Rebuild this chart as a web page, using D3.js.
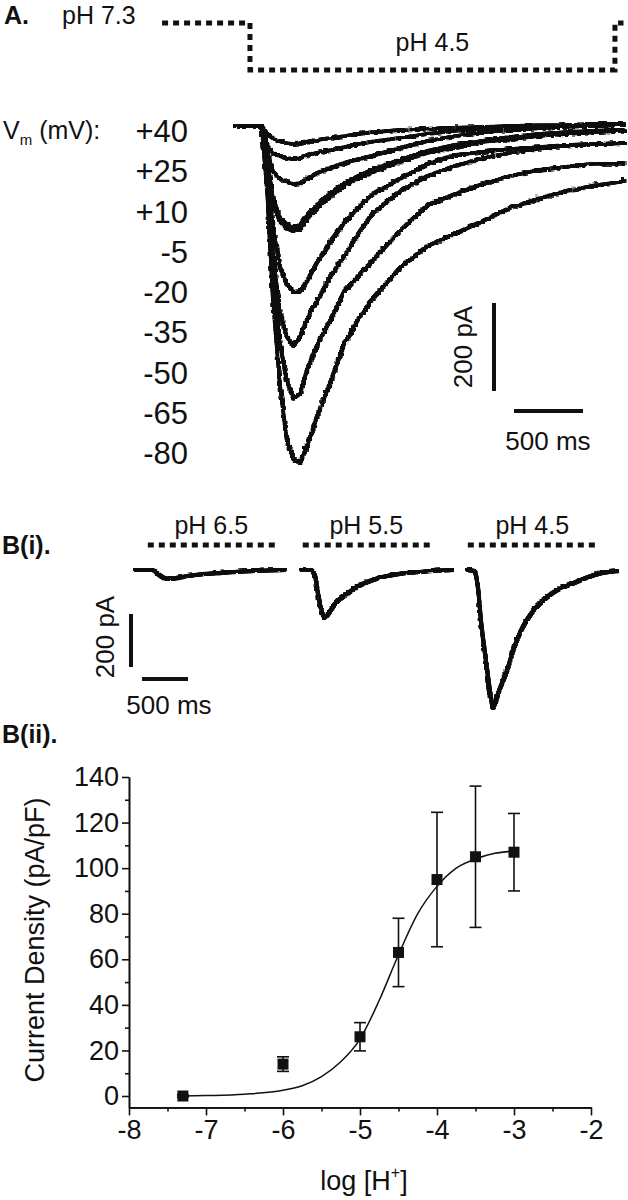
<!DOCTYPE html>
<html><head><meta charset="utf-8">
<script src="https://cdn.jsdelivr.net/npm/d3@7"></script>
<style>
body{margin:0;background:#fff;}
text{font-family:"Liberation Sans",Arial,sans-serif;fill:#111;}
</style>
</head><body>
<svg id="c" width="628" height="1200" xmlns="http://www.w3.org/2000/svg"></svg>
<script>
// ---------- Panel A data ----------
const voltages = ["+40","+25","+10","-5","-20","-35","-50","-65","-80"];
const traceTimes = [0,200,240,280,330,380,430,480,530,600,700,800,900,1000,1200,1400,1600,1800,2000,2200,2400,2600,2800,2830];
const iP40 = [0,0,-18,-27,-34,-39,-41,-39,-36,-32,-27,-23,-18,-14,-9,-6,-4,-2,0,2,2,5,5,5];
const iP25 = [0,0,-45,-61,-68,-73,-75,-73,-66,-61,-55,-48,-41,-36,-27,-18,-11,-7,-5,-2,0,0,2,2];
const iP10 = [0,0,-57,-102,-120,-127,-132,-130,-120,-107,-95,-84,-75,-68,-50,-34,-23,-14,-9,-5,-2,0,2,2];
const iM5  = [0,0,-75,-161,-207,-223,-230,-225,-202,-180,-152,-130,-114,-100,-77,-57,-43,-34,-25,-18,-14,-11,-9,-9];
const iM20 = [0,0,-80,-170,-216,-232,-239,-234,-211,-186,-159,-136,-118,-105,-82,-61,-48,-36,-30,-23,-18,-14,-11,-11];
const iM35 = [0,0,-91,-227,-318,-359,-377,-375,-352,-311,-261,-220,-184,-155,-120,-86,-66,-59,-52,-48,-43,-41,-39,-39];
const iM50 = [0,0,-114,-284,-420,-477,-500,-477,-439,-398,-341,-295,-245,-200,-148,-114,-91,-73,-61,-52,-45,-41,-39,-39];
const iM65 = [0,0,-125,-330,-489,-575,-620,-607,-552,-500,-439,-375,-341,-307,-239,-180,-155,-132,-114,-100,-93,-86,-86,-84];
const iM80 = [0,0,-148,-386,-580,-709,-757,-766,-727,-661,-580,-495,-439,-393,-323,-273,-245,-216,-186,-166,-148,-136,-127,-125];
const stimTimes = [-514,123,123,2768,2768,2830];
const stimPH = [7.3,7.3,4.5,4.5,7.3,7.3];

// ---------- Panel B(i) data ----------
const phLevels = ["pH 6.5","pH 5.5","pH 4.5"];
const bTimes65 = [0,196,250,315,391,467,576,750,935,1293,1652];
const bCurr65  = [0,0,-15,-30,-34,-30,-23,-15,-11,-4,0];
const bTimes55 = [0,100,150,200,260,300,370,500,630,850,1065,1283,1500,1652];
const bCurr55  = [0,0,-20,-120,-181,-165,-128,-91,-60,-30,-15,-8,-2,0];
const bTimes45 = [0,76,120,152,207,261,283,348,446,478,587,696,913,1163,1424,1652];
const bCurr45  = [0,-4,-68,-193,-343,-483,-521,-457,-370,-332,-230,-166,-91,-49,-15,-4];
const barOn  = [150,30,20];
const barOff = [1530,1410,1420];

// ---------- Panel B(ii) data ----------
const logH    = [-7.3,-6,-5,-4.5,-4,-3.5,-3];
const density = [0,14,26,63,95,105,107];
const sem     = [0.5,3.2,6.2,15,29.5,31,17];
const fitX = [-7.3,-7,-6.5,-6,-5.75,-5.5,-5.25,-5,-4.75,-4.5,-4.25,-4,-3.75,-3.5,-3.25,-3];
const fitY = [0,0.2,0.8,2.5,4.5,8.5,15,25,42,62,80,92,100,104,106.5,107.5];
const xTicks = [-8,-7,-6,-5,-4,-3,-2];
const xMinor = [-7.5,-6.5,-5.5,-4.5,-3.5,-2.5];
const yTicks = [0,20,40,60,80,100,120,140];
const yMinor = [10,30,50,70,90,110,130];

const ink = "#111";
const svg = d3.select("#c");

// recording-noise texture (visual style only)
const defs = svg.append("defs");
function roughFilter(id, freq, scale, dil){
  const f = defs.append("filter").attr("id",id).attr("x","-5%").attr("y","-5%")
    .attr("width","110%").attr("height","110%");
  f.append("feTurbulence").attr("type","turbulence").attr("baseFrequency",freq)
    .attr("numOctaves",1).attr("seed",7).attr("result","n");
  f.append("feDisplacementMap").attr("in","SourceGraphic").attr("in2","n")
    .attr("scale",scale).attr("xChannelSelector","R").attr("yChannelSelector","G").attr("result","d");
  f.append("feMorphology").attr("in","d").attr("operator","dilate").attr("radius",dil).attr("result","m");
  const ct = f.append("feComponentTransfer").attr("in","m");
  ct.append("feFuncA").attr("type","linear").attr("slope",1.8);
}
roughFilter("roughA","0.12 0.45",3.3,0.55);
roughFilter("roughB","0.12 0.45",2.5,0.7);

// ================= Panel A =================
svg.append("text").attr("x",4).attr("y",24).attr("font-size",25).attr("font-weight","bold").text("A.");
const xA = d3.scaleLinear().domain([0,2830]).range([233,623.5]);
const yA = d3.scaleLinear().domain([0,-200]).range([125,213]);
const yStim = d3.scaleLinear().domain([7.3,4.5]).range([23,70]);

const stim = stimTimes.map((t,i)=>({t, p:stimPH[i]}));
svg.append("path").attr("d", d3.line().x(d=>xA(d.t)).y(d=>yStim(d.p))(stim))
  .attr("fill","none").attr("stroke",ink).attr("stroke-width",5).attr("stroke-dasharray","6,5");
svg.append("text").attr("x",62).attr("y",24).attr("font-size",25).text("pH 7.3");
svg.append("text").attr("x",xA((123+2768)/2)).attr("y",51).attr("text-anchor","middle").attr("font-size",25).text("pH 4.5");

const vm = svg.append("text").attr("x",3).attr("y",139).attr("font-size",25);
vm.append("tspan").text("V");
vm.append("tspan").attr("font-size",15).attr("dy",6).text("m");
vm.append("tspan").attr("dy",-6).text(" (mV):");

const yLab = d3.scalePoint().domain(voltages).range([131,453]);
svg.selectAll("text.vlab").data(voltages).join("text").attr("class","vlab")
  .attr("x",188).attr("y",d=>yLab(d)).attr("dy","0.36em").attr("text-anchor","end")
  .attr("font-size",31).text(d=>d);

const traces = [iP40,iP25,iP10,iM5,iM20,iM35,iM50,iM65,iM80];
const lineA = d3.line().x(d=>xA(d.t)).y(d=>yA(d.v));
const gA = svg.append("g").attr("filter","url(#roughA)");
traces.forEach((arr)=>{
  const pts = traceTimes.map((t,i)=>({t, v:arr[i]}));
  gA.append("path").attr("d",lineA(pts)).attr("fill","none").attr("stroke",ink)
    .attr("stroke-width",1.45).attr("stroke-linejoin","round");
});

// scale bars A
const sbx = 494, sby = 303;
svg.append("line").attr("x1",sbx).attr("x2",sbx).attr("y1",sby).attr("y2",sby+(yA(-200)-yA(0)))
  .attr("stroke",ink).attr("stroke-width",4);
svg.append("line").attr("x1",514).attr("x2",514+(xA(500)-xA(0))).attr("y1",411).attr("y2",411)
  .attr("stroke",ink).attr("stroke-width",4);
svg.append("text").attr("transform","translate(472,347) rotate(-90)").attr("text-anchor","middle")
  .attr("font-size",26).text("200 pA");
svg.append("text").attr("x",548).attr("y",450).attr("text-anchor","middle").attr("font-size",26).text("500 ms");

// ================= Panel B(i) =================
svg.append("text").attr("x",2).attr("y",554).attr("font-size",25).attr("font-weight","bold").text("B(i).");
const band = d3.scaleBand().domain(phLevels).range([134,618]).paddingInner(0.0843);
const yB = d3.scaleLinear().domain([0,-200]).range([569,622]);
const bSets = [[bTimes65,bCurr65],[bTimes55,bCurr55],[bTimes45,bCurr45]];
const gB = svg.append("g").attr("filter","url(#roughB)");
phLevels.forEach((ph,k)=>{
  const xB = d3.scaleLinear().domain([0,1652]).range([band(ph), band(ph)+band.bandwidth()]);
  const [ts,cs] = bSets[k];
  const pts = ts.map((t,i)=>({t, v:cs[i]}));
  gB.append("path").attr("d", d3.line().curve(d3.curveMonotoneX).x(d=>xB(d.t)).y(d=>yB(d.v))(pts))
    .attr("fill","none").attr("stroke",ink).attr("stroke-width",2).attr("stroke-linejoin","round");
  svg.append("line").attr("x1",xB(barOn[k])).attr("x2",xB(barOff[k])).attr("y1",545).attr("y2",545)
    .attr("stroke",ink).attr("stroke-width",5).attr("stroke-dasharray","6,5");
  svg.append("text").attr("x",(xB(barOn[k])+xB(barOff[k]))/2).attr("y",534).attr("text-anchor","middle")
    .attr("font-size",25).text(ph);
});
const xBs = d3.scaleLinear().domain([0,1652]).range([0,152]);
svg.append("line").attr("x1",131).attr("x2",131).attr("y1",614).attr("y2",614+(yB(-200)-yB(0)))
  .attr("stroke",ink).attr("stroke-width",4);
svg.append("line").attr("x1",142).attr("x2",142+xBs(500)).attr("y1",679).attr("y2",679)
  .attr("stroke",ink).attr("stroke-width",4);
svg.append("text").attr("transform","translate(114,637) rotate(-90)").attr("text-anchor","middle")
  .attr("font-size",26).text("200 pA");
svg.append("text").attr("x",169).attr("y",714).attr("text-anchor","middle").attr("font-size",26).text("500 ms");

// ================= Panel B(ii) =================
svg.append("text").attr("x",2).attr("y",743).attr("font-size",25).attr("font-weight","bold").text("B(ii).");
const xC = d3.scaleLinear().domain([-8,-2]).range([129,591]);
const yC = d3.scaleLinear().domain([-5,140]).range([1107.4,777]);
const gx = svg.append("g").attr("transform",`translate(0,${yC(-5)})`)
  .call(d3.axisBottom(xC).tickValues(xTicks).tickFormat(d=>String(d)).tickSize(8).tickSizeOuter(0).tickPadding(4));
svg.append("g").attr("transform",`translate(0,${yC(-5)})`)
  .call(d3.axisBottom(xC).tickValues(xMinor).tickFormat("").tickSize(4).tickSizeOuter(0));
const gy = svg.append("g").attr("transform",`translate(${xC(-8)},0)`)
  .call(d3.axisLeft(yC).tickValues(yTicks).tickFormat(d=>String(d)).tickSize(7).tickSizeOuter(0).tickPadding(3));
svg.append("g").attr("transform",`translate(${xC(-8)},0)`)
  .call(d3.axisLeft(yC).tickValues(yMinor).tickFormat("").tickSize(4).tickSizeOuter(0));
svg.selectAll(".domain, .tick line").attr("stroke",ink).attr("stroke-width",1.6);
gx.selectAll("text").attr("font-size",27).attr("fill",ink).attr("font-family","Liberation Sans, Arial, sans-serif");
gy.selectAll("text").attr("font-size",27).attr("fill",ink).attr("font-family","Liberation Sans, Arial, sans-serif");

svg.append("text").attr("transform","translate(44,940) rotate(-90)").attr("text-anchor","middle")
  .attr("font-size",27).text("Current Density (pA/pF)");
const xl = svg.append("text").attr("x",364).attr("y",1190).attr("text-anchor","middle").attr("font-size",27);
xl.append("tspan").text("log [H");
xl.append("tspan").attr("font-size",16).attr("dy",-12).text("+");
xl.append("tspan").attr("dy",12).text("]");

// fit curve
const fit = fitX.map((x,i)=>({x, y:fitY[i]}));
svg.append("path").attr("d", d3.line().curve(d3.curveMonotoneX).x(d=>xC(d.x)).y(d=>yC(d.y))(fit))
  .attr("fill","none").attr("stroke",ink).attr("stroke-width",1.5);

// error bars
const pts = logH.map((x,i)=>({x, y:density[i], e:sem[i]}));
const eb = svg.append("g").attr("stroke",ink).attr("stroke-width",1.6);
pts.forEach(d=>{
  eb.append("line").attr("x1",xC(d.x)).attr("x2",xC(d.x)).attr("y1",yC(d.y-d.e)).attr("y2",yC(d.y+d.e));
  [d.y-d.e, d.y+d.e].forEach(v=>{
    eb.append("line").attr("x1",xC(d.x)-6).attr("x2",xC(d.x)+6).attr("y1",yC(v)).attr("y2",yC(v));
  });
});
svg.selectAll("rect.pt").data(pts).join("rect").attr("class","pt")
  .attr("x",d=>xC(d.x)-5.5).attr("y",d=>yC(d.y)-5.5).attr("width",11).attr("height",11).attr("fill",ink);
</script>
</body></html>
